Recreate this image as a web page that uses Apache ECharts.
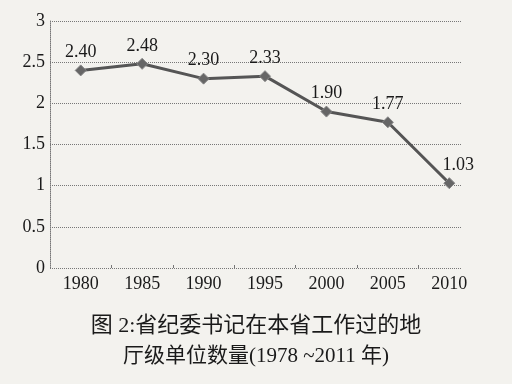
<!DOCTYPE html>
<html><head><meta charset="utf-8">
<script src="https://cdn.jsdelivr.net/npm/echarts@6/dist/echarts.min.js"></script>
<style>html,body{margin:0;padding:0;background:#f3f2ee}#c{width:512px;height:384px}</style>
</head><body><div id="c"></div>
<script>
const years = ['1980','1985','1990','1995','2000','2005','2010'];
const values = [2.40, 2.48, 2.30, 2.33, 1.90, 1.77, 1.03];
const yTicks = [0, 0.5, 1, 1.5, 2, 2.5, 3];
const captionLines = ['图 2:省纪委书记在本省工作过的地', '厅级单位数量(1978 ~2011 年)'];

const serif = '"Liberation Serif","DejaVu Serif","Noto Sans CJK SC",serif';
// band boundaries between categories (in category-index units)
const boundaries = years.slice(1).map((_, i) => i + 0.5);
const chart = echarts.init(document.getElementById('c'));
chart.setOption({
  backgroundColor: '#f3f2ee',
  animation: false,
  title: [
    {text: captionLines[0], left: 'center', top: 310, textStyle: {fontFamily: serif, fontSize: 22, fontWeight: 'normal', color: '#1a1a1a'}},
    {text: captionLines[1], left: 'center', top: 341, textStyle: {fontFamily: serif, fontSize: 21, fontWeight: 'normal', color: '#1a1a1a'}}
  ],
  grid: [
    {left: 50, right: 50, top: 21, bottom: 116},
    {left: 50, right: 32, top: 21, bottom: 116}
  ],
  xAxis: [
    {gridIndex: 0, type: 'value', min: -0.5, max: 6.207,
     axisLine: {show: false}, splitLine: {show: false},
     axisLabel: {show: false},
     axisTick: {show: true, inside: true, length: 3, lineStyle: {color: '#777'}, customValues: boundaries}},
    {gridIndex: 1, type: 'category', data: years, boundaryGap: true,
     axisLine: {show: false},
     axisTick: {show: false},
     axisLabel: {fontFamily: serif, fontSize: 18, color: '#1a1a1a', margin: 7}}
  ],
  yAxis: [
    {gridIndex: 0, type: 'value', min: yTicks[0], max: yTicks[yTicks.length-1], interval: 0.5,
     axisLine: {show: true, onZero: false, lineStyle: {color: '#777', type: 'dotted', width: 1}},
     axisTick: {show: false},
     axisLabel: {fontFamily: serif, fontSize: 18, color: '#1a1a1a', margin: 5},
     splitLine: {show: true, lineStyle: {color: '#777', type: 'dotted', width: 1}}},
    {gridIndex: 1, type: 'value', min: 0, max: 3, show: false}
  ],
  series: [{
    type: 'line', xAxisIndex: 1, yAxisIndex: 1,
    lineStyle: {color: '#555', width: 3},
    itemStyle: {color: '#666', borderColor: '#888', borderWidth: 1},
    symbol: 'diamond', symbolSize: 11,
    label: {show: true, position: 'top', distance: 3, fontFamily: serif, fontSize: 18, color: '#1a1a1a',
            formatter: p => p.value.toFixed(2)},
    data: values.map((v, i) => i === values.length - 1
      ? {value: v, label: {offset: [9, 0]}} : v)
  }]
});
</script></body></html>
